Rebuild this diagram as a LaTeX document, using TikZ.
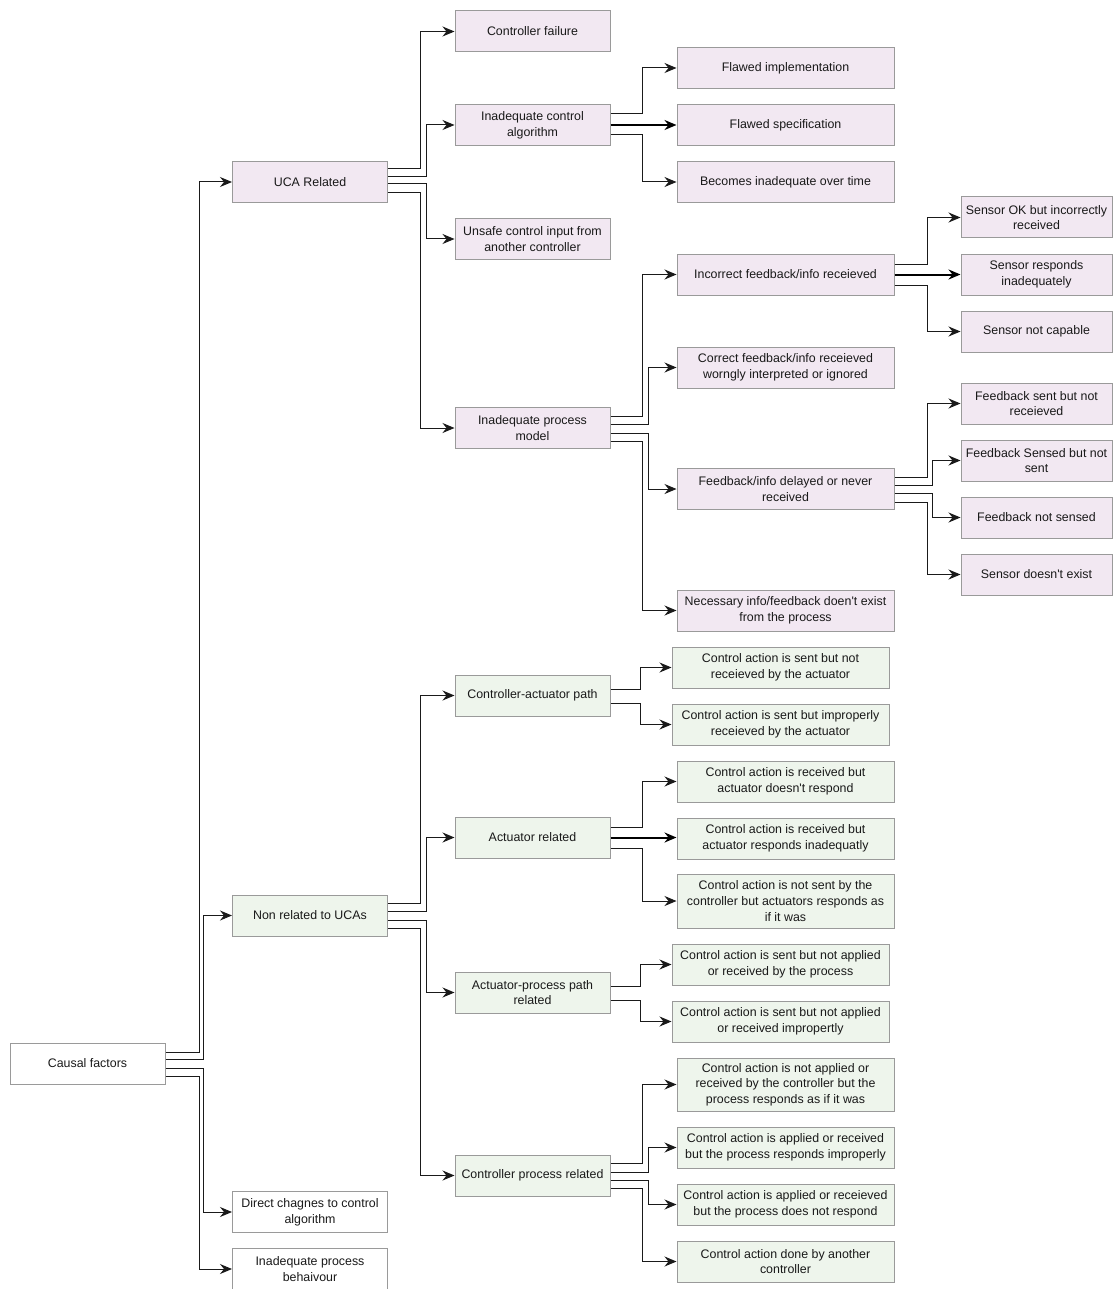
\documentclass[tikz,border=0pt]{standalone}
\usepackage{fontspec}
\setmainfont{Liberation Sans}
\usetikzlibrary{arrows.meta}

\definecolor{boxline}{HTML}{9A9A9A}
\definecolor{purplefill}{HTML}{F2E8F2}
\definecolor{greenfill}{HTML}{EEF5EC}
\definecolor{wirecol}{HTML}{1A1A1A}

\newcommand{\apos}{\textquotesingle}

\tikzset{
  base/.style={draw=boxline, line width=1pt, align=center, inner sep=2pt,
               font=\fontsize{12.4}{15.6}\selectfont, text=black!90},
  pbox/.style={base, fill=purplefill},
  gbox/.style={base, fill=greenfill},
  wbox/.style={base, fill=white},
  narrow/.style={minimum width=155pt, minimum height=41pt},
  wide/.style={minimum width=217pt, minimum height=41pt},
  leaf/.style={minimum width=151pt, minimum height=41pt},
  tip/.style={-{Stealth[length=12pt,width=10pt,inset=4pt]}},
  conn/.style={draw=wirecol, line width=1pt, tip},
  boldconn/.style={draw=black, line width=2pt, tip}
}

% elbow connector: parent, exit shift, vertical-run shift (from child's west side), child
\newcommand{\elbow}[4]{\draw[conn] ([yshift=#2pt]#1.east) -| ([xshift=#3pt]#4.west) -- (#4.west);}

\begin{document}
\begin{tikzpicture}[x=1pt, y=-1pt]
\useasboundingbox (0,0) rectangle (1113,1289);
\clip (0,0) rectangle (1113,1289);

% root and first level
\node[wbox, narrow] (cf) at (87.5,1063.5) {Causal factors};
\node[pbox, narrow] (uca) at (310,182) {UCA Related};
\node[gbox, narrow] (nonuca) at (310,915.5) {Non related to UCAs};
\node[wbox, narrow] (direct) at (310,1212) {Direct chagnes to control\\algorithm};
\node[wbox, narrow] (inadbeh) at (310,1269) {Inadequate process\\behaivour};

% second level
\node[pbox, narrow] (cfail) at (532.5,31.5) {Controller failure};
\node[pbox, narrow] (ica) at (532.5,125) {Inadequate control\\algorithm};
\node[pbox, narrow] (unsafe) at (532.5,239) {Unsafe control input from\\another controller};
\node[pbox, narrow] (ipm) at (532.5,428) {Inadequate process\\model};
\node[gbox, narrow] (capath) at (532.5,695.5) {Controller-actuator path};
\node[gbox, narrow] (actrel) at (532.5,837.5) {Actuator related};
\node[gbox, narrow] (appath) at (532.5,992.5) {Actuator-process path\\related};
\node[gbox, narrow] (cprel) at (532.5,1175.5) {Controller process related};

% third level
\node[pbox, wide] (fimpl) at (785.5,68) {Flawed implementation};
\node[pbox, wide] (fspec) at (785.5,125) {Flawed specification};
\node[pbox, wide] (becomes) at (785.5,182) {Becomes inadequate over time};
\node[pbox, wide] (incorrect) at (785.5,274.5) {Incorrect feedback/info receieved};
\node[pbox, wide] (correct) at (785.5,367.5) {Correct feedback/info receieved\\worngly interpreted or ignored};
\node[pbox, wide] (delayed) at (785.5,489) {Feedback/info delayed or never\\received};
\node[pbox, wide] (necessary) at (785.5,610.5) {Necessary info/feedback doen\apos t exist\\from the process};

\node[gbox, wide] (ca1) at (780.5,667.5) {Control action is sent but not\\receieved by the actuator};
\node[gbox, wide] (ca2) at (780.5,724.5) {Control action is sent but improperly\\receieved by the actuator};
\node[gbox, wide] (ar1) at (785.5,781.5) {Control action is received but\\actuator doesn\apos t respond};
\node[gbox, wide] (ar2) at (785.5,838.5) {Control action is received but\\actuator responds inadequatly};
\node[gbox, wide, minimum height=54pt] (ar3) at (785.5,901) {Control action is not sent by the\\controller but actuators responds as\\if it was};
\node[gbox, wide] (ap1) at (780.5,964.5) {Control action is sent but not applied\\or received by the process};
\node[gbox, wide] (ap2) at (780.5,1021.5) {Control action is sent but not applied\\or received impropertly};
\node[gbox, wide, minimum height=53pt] (cp1) at (785.5,1084.5) {Control action is not applied or\\received by the controller but the\\process responds as if it was};
\node[gbox, wide] (cp2) at (785.5,1147.5) {Control action is applied or received\\but the process responds improperly};
\node[gbox, wide] (cp3) at (785.5,1204.5) {Control action is applied or receieved\\but the process does not respond};
\node[gbox, wide] (cp4) at (785.5,1261.5) {Control action done by another\\controller};

% fourth level
\node[pbox, leaf] (sok) at (1036.5,217.5) {Sensor OK but incorrectly\\received};
\node[pbox, leaf] (sresp) at (1036.5,274.5) {Sensor responds\\inadequately};
\node[pbox, leaf] (scap) at (1036.5,331.5) {Sensor not capable};
\node[pbox, leaf] (fsent) at (1036.5,403.5) {Feedback sent but not\\receieved};
\node[pbox, leaf] (fsensed) at (1036.5,460.5) {Feedback Sensed but not\\sent};
\node[pbox, leaf] (fnot) at (1036.5,517.5) {Feedback not sensed};
\node[pbox, leaf] (sdoesnt) at (1036.5,574.5) {Sensor doesn\apos t exist};

% connectors from the root
\elbow{cf}{11.5}{-33}{uca}
\elbow{cf}{4.5}{-29}{nonuca}
\elbow{cf}{-4.5}{-29}{direct}
\elbow{cf}{-12.5}{-33}{inadbeh}

% UCA related branch
\elbow{uca}{13}{-34}{cfail}
\elbow{uca}{5}{-28}{ica}
\elbow{uca}{-2}{-28}{unsafe}
\elbow{uca}{-11}{-34}{ipm}

\elbow{ica}{11}{-34}{fimpl}
\draw[boldconn] (ica.east) -- (fspec.west);
\elbow{ica}{-10}{-34}{becomes}

\elbow{ipm}{12}{-34}{incorrect}
\elbow{ipm}{4}{-28}{correct}
\elbow{ipm}{-5}{-28}{delayed}
\elbow{ipm}{-13}{-34}{necessary}

\elbow{incorrect}{10.5}{-33}{sok}
\draw[boldconn] (incorrect.east) -- (sresp.west);
\elbow{incorrect}{-10.5}{-33}{scap}

\elbow{delayed}{12}{-33}{fsent}
\elbow{delayed}{4}{-28}{fsensed}
\elbow{delayed}{-4}{-28}{fnot}
\elbow{delayed}{-13}{-33}{sdoesnt}

% non-UCA branch
\elbow{nonuca}{12.5}{-34}{capath}
\elbow{nonuca}{4.5}{-28}{actrel}
\elbow{nonuca}{-4.5}{-28}{appath}
\elbow{nonuca}{-12.5}{-34}{cprel}

\elbow{capath}{6.5}{-31}{ca1}
\elbow{capath}{-7.5}{-31}{ca2}

\elbow{actrel}{10.5}{-34}{ar1}
\draw[boldconn] (actrel.east) -- (actrel.east -| ar2.west);
\elbow{actrel}{-10.5}{-34}{ar3}

\elbow{appath}{6.5}{-31}{ap1}
\elbow{appath}{-7.5}{-31}{ap2}

\elbow{cprel}{12.5}{-34}{cp1}
\elbow{cprel}{3.5}{-28}{cp2}
\elbow{cprel}{-4.5}{-28}{cp3}
\elbow{cprel}{-12.5}{-34}{cp4}
\end{tikzpicture}
\end{document}
